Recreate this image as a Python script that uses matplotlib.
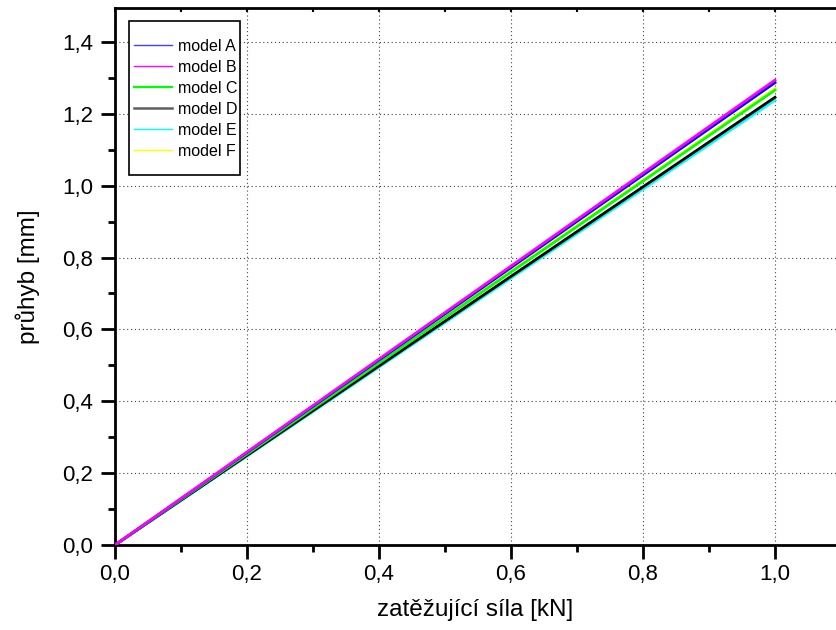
import numpy as np
import matplotlib.pyplot as plt
from matplotlib.ticker import MultipleLocator, FuncFormatter
from matplotlib.patches import Rectangle

plt.rcParams['font.family'] = ['Liberation Sans', 'DejaVu Sans']

# data: linear deflection vs load
sila = [0.0, 1.0]
modely = ['model A', 'model B', 'model C', 'model D', 'model E', 'model F']
pruhyb_max = [1.287, 1.294, 1.266, 1.246, 1.238, 1.270]
barvy = ['#0000ff', '#ff00ff', '#00ff00', '#000000', '#00ffff', '#ffff00']
leg_barvy = ['#4040ff', '#ff00ff', '#00ff00', '#606060', '#00ffff', '#ffff00']
sirky = [1.0, 1.0, 1.6, 1.8, 1.0, 1.0]
poradi = [5, 4, 3, 2, 0, 1]   # drawing order, magenta on top

W, H = 836, 630
fig = plt.figure(figsize=(W / 100, H / 100), dpi=100)
ax = fig.add_axes([115 / W, 85 / H, (W - 115) / W, 537 / H])

for k, i in enumerate(poradi):
    ax.plot(sila, [0.0, pruhyb_max[i]], color=barvy[i], lw=2.0, zorder=3 + k)

# legend proxies in the original order
handles = []
for i in range(len(modely)):
    h, = ax.plot([], [], color=leg_barvy[i], lw=sirky[i], label=modely[i])
    handles.append(h)
leg = ax.legend(handles=handles, loc='upper left',
                bbox_to_anchor=(134 / W, 1 - 39 / H), bbox_transform=fig.transFigure,
                fontsize=11.5, frameon=False,
                borderpad=0.0, labelspacing=0.37, handlelength=2.4, handletextpad=0.35,
                borderaxespad=0)
leg.set_zorder(10)
# legend frame
ax.add_patch(Rectangle((129 / W, 1 - 175 / H), 111 / W, 154 / H,
                       transform=fig.transFigure, fill=True, facecolor='white',
                       edgecolor='black', lw=1.2, zorder=9, clip_on=False))

ax.set_xlim(0, (W - 115) / 660)
ax.set_ylim(0, 537 * 0.2 / 71.86)
ax.xaxis.set_major_locator(MultipleLocator(0.2))
ax.xaxis.set_minor_locator(MultipleLocator(0.1))
ax.yaxis.set_major_locator(MultipleLocator(0.2))
ax.yaxis.set_minor_locator(MultipleLocator(0.1))
fmt = FuncFormatter(lambda v, p: f"{v:.1f}".replace('.', ','))
ax.xaxis.set_major_formatter(fmt)
ax.yaxis.set_major_formatter(fmt)

ax.grid(True, which='major', color='#444444', linestyle=(0, (1, 2.5)), lw=0.8)
ax.spines['right'].set_visible(False)
for s in ['left', 'bottom', 'top']:
    ax.spines[s].set_linewidth(2.0)

ax.tick_params(axis='both', which='major', direction='out', length=10, width=2.0,
               labelsize=16, pad=6)
ax.tick_params(axis='both', which='minor', direction='out', length=5, width=2.0)
ax.tick_params(axis='x', which='major', pad=4)

# small inward ticks on the top edge
top = ax.secondary_xaxis('top')
top.xaxis.set_major_locator(MultipleLocator(0.1))
top.tick_params(direction='in', length=3, width=1.5, labeltop=False)
top.spines['top'].set_visible(False)

ax.set_xlabel('zatěžující síla [kN]', fontsize=17.5, labelpad=10)
ax.set_ylabel('průhyb [mm]', fontsize=17.5, labelpad=16)

fig.savefig('out.png', dpi=100)
